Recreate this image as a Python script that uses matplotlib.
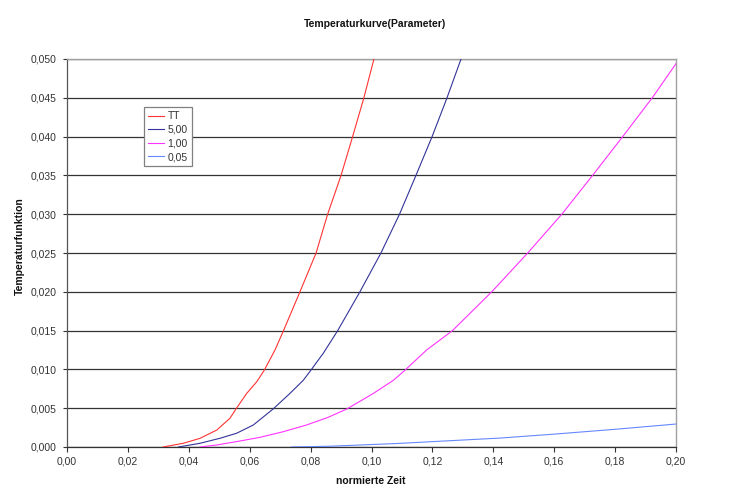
import matplotlib
matplotlib.use("Agg")
import matplotlib.pyplot as plt
from matplotlib.ticker import FuncFormatter, MultipleLocator

# ---- data ----
tt_x = [0.0316, 0.0382, 0.0437, 0.0492, 0.0535, 0.0555, 0.0590, 0.0623, 0.0648,
        0.0683, 0.0710, 0.0765, 0.0818, 0.0856, 0.0900, 0.0938, 0.0975, 0.1008]
tt_y = [0.0, 0.00048, 0.00112, 0.00219, 0.0037, 0.0049, 0.0069, 0.0084, 0.0099,
        0.0125, 0.0149, 0.020, 0.025, 0.030, 0.035, 0.040, 0.045, 0.050]

p500_x = [0.0366, 0.0437, 0.0502, 0.0557, 0.0612, 0.0677, 0.0732, 0.0776, 0.0801,
          0.0842, 0.0889, 0.0962, 0.1031, 0.1092, 0.1146, 0.1199, 0.1248, 0.1294]
p500_y = [0.0, 0.00048, 0.00112, 0.00177, 0.00284, 0.0049, 0.0069, 0.0086, 0.0099,
          0.0121, 0.015, 0.020, 0.025, 0.030, 0.035, 0.040, 0.045, 0.050]

p100_x = [0.0437, 0.0492, 0.0568, 0.0634, 0.0710, 0.0787, 0.0858, 0.0919, 0.1006,
          0.1072, 0.1110, 0.1181, 0.1266, 0.1395, 0.1513, 0.1625, 0.1726, 0.1825,
          0.1922, 0.200]
p100_y = [0.0, 0.00026, 0.00077, 0.00125, 0.00197, 0.00284, 0.00383, 0.0049, 0.0069,
          0.0086, 0.0099, 0.0125, 0.015, 0.020, 0.025, 0.030, 0.035, 0.040,
          0.045, 0.0494]

p005_x = [0.0737, 0.0864, 0.1083, 0.1301, 0.1422, 0.1597, 0.180, 0.200]
p005_y = [0.0, 0.0001, 0.00045, 0.0009, 0.00115, 0.00165, 0.00228, 0.00296]

series_labels = ["TT", "5,00", "1,00", "0,05"]
series_colors = ["#FF3333", "#333399", "#FF33FF", "#6688FF"]

title = "Temperaturkurve(Parameter)"
xlabel = "normierte Zeit"
ylabel = "Temperaturfunktion"

# ---- figure ----
plt.rcParams['font.family'] = ['Liberation Sans', 'DejaVu Sans']
fig = plt.figure(figsize=(7.5, 5.01), dpi=100)
fig.patch.set_facecolor("white")
L, R, T, B = 67, 676, 59, 447
ax = fig.add_axes([L / 750, 1 - B / 501, (R - L) / 750, (B - T) / 501])
ax.set_facecolor("white")

for xs, ys, lab, col in zip([tt_x, p500_x, p100_x, p005_x],
                            [tt_y, p500_y, p100_y, p005_y],
                            series_labels, series_colors):
    ax.plot(xs, ys, color=col, lw=0.8, label=lab, zorder=3)

ax.set_xlim(0, 0.20)
ax.set_ylim(0, 0.050)
ax.xaxis.set_major_locator(MultipleLocator(0.02))
ax.yaxis.set_major_locator(MultipleLocator(0.005))
ax.xaxis.set_major_formatter(FuncFormatter(lambda v, p: f"{v:.2f}".replace(".", ",")))
ax.yaxis.set_major_formatter(FuncFormatter(lambda v, p: f"{v:.3f}".replace(".", ",")))

ax.grid(axis="y", color="#333333", lw=0.9, zorder=1)
ax.set_axisbelow(True)

for s in ["top", "right"]:
    ax.spines[s].set_color("#A0A0A0")
    ax.spines[s].set_linewidth(1.0)
ax.spines["left"].set_color("#555555")
ax.spines["bottom"].set_color("#333333")
ax.spines["left"].set_linewidth(0.9)
ax.spines["bottom"].set_linewidth(0.9)

ax.tick_params(axis="x", direction="out", length=3.6, width=0.8, pad=3.6,
               labelsize=7.5, colors="#333333")
ax.tick_params(axis="y", direction="out", length=3.2, width=0.8, pad=4.3,
               labelsize=7.5, colors="#333333")

fig.text(375 / 750, 1 - 24 / 501, title, ha="center", va="center",
         fontsize=7.5, fontweight="bold", color="#111111")
fig.text(371 / 750, 1 - 481 / 501, xlabel, ha="center", va="center",
         fontsize=7.5, fontweight="bold", color="#111111")
fig.text(19.5 / 750, 1 - 246.5 / 501, ylabel, ha="center", va="center",
         rotation=90, fontsize=7.5, fontweight="bold", color="#111111")

leg = ax.legend(loc="upper left",
                bbox_to_anchor=((144 - L) / (R - L), (B - 107) / (B - T)),
                borderaxespad=0, fontsize=7.5, frameon=True, fancybox=False,
                handlelength=1.5, handletextpad=0.35, labelspacing=0.35,
                borderpad=0.4)
leg.get_frame().set_edgecolor("#808080")
leg.get_frame().set_linewidth(0.9)
leg.get_frame().set_alpha(1)
for t in leg.get_texts():
    t.set_color("#333333")
leg.set_zorder(5)

fig.savefig("out.png", dpi=100, facecolor="white")
